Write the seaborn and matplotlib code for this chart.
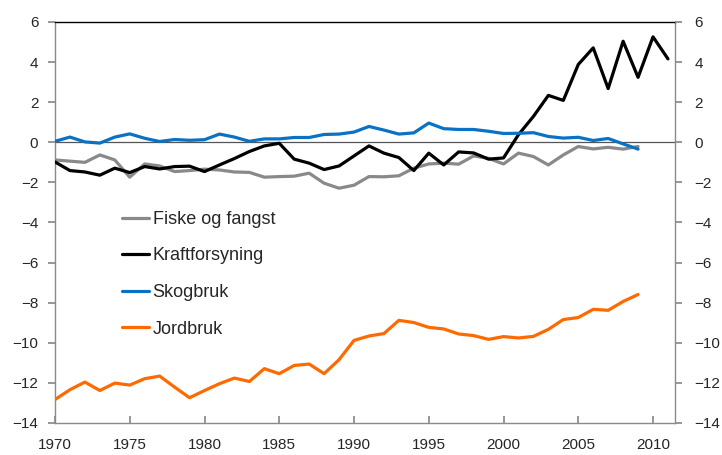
import matplotlib
matplotlib.use("Agg")
import matplotlib.pyplot as plt
import numpy as np
import pandas as pd
import seaborn as sns

years = list(range(1970, 2012))

fiske = [-0.88, -0.94, -1.00, -0.63, -0.88, -1.74, -1.08, -1.18, -1.46, -1.41,
         -1.34, -1.38, -1.48, -1.50, -1.74, -1.71, -1.69, -1.54, -2.04, -2.29,
         -2.14, -1.71, -1.72, -1.67, -1.29, -1.08, -1.04, -1.09, -0.68, -0.80,
         -1.08, -0.54, -0.71, -1.13, -0.63, -0.21, -0.33, -0.25, -0.34, -0.21]

kraft = [-0.98, -1.41, -1.48, -1.64, -1.29, -1.51, -1.21, -1.33, -1.21, -1.19,
         -1.46, -1.13, -0.81, -0.46, -0.18, -0.05, -0.84, -1.04, -1.36, -1.18,
         -0.68, -0.18, -0.54, -0.76, -1.41, -0.54, -1.13, -0.48, -0.53, -0.84,
         -0.78, 0.38, 1.29, 2.34, 2.09, 3.88, 4.71, 2.68, 5.04, 3.24,
         5.26, 4.16]

skog = [0.05, 0.26, 0.02, -0.04, 0.26, 0.42, 0.20, 0.04, 0.14, 0.10,
        0.13, 0.41, 0.26, 0.05, 0.17, 0.17, 0.24, 0.24, 0.39, 0.41,
        0.51, 0.79, 0.61, 0.41, 0.47, 0.96, 0.68, 0.64, 0.64, 0.55,
        0.44, 0.45, 0.48, 0.29, 0.21, 0.25, 0.09, 0.19, -0.08, -0.34]

jord = [-12.83, -12.34, -11.96, -12.38, -12.01, -12.11, -11.79, -11.66, -12.21, -12.74,
        -12.38, -12.04, -11.76, -11.93, -11.29, -11.54, -11.13, -11.06, -11.54, -10.84,
        -9.88, -9.66, -9.54, -8.88, -8.99, -9.23, -9.31, -9.56, -9.64, -9.83,
        -9.69, -9.76, -9.68, -9.33, -8.84, -8.74, -8.33, -8.38, -7.94, -7.59]

series = {
    "Fiske og fangst": fiske,
    "Kraftforsyning": kraft,
    "Skogbruk": skog,
    "Jordbruk": jord,
}
colors = {
    "Fiske og fangst": "#898989",
    "Kraftforsyning": "#000000",
    "Skogbruk": "#0a72c4",
    "Jordbruk": "#ff6a00",
}

df = pd.concat(
    [pd.DataFrame({"year": years[:len(v)], "value": v, "series": k}) for k, v in series.items()],
    ignore_index=True,
)

sns.set_theme(style="white")
plt.rcParams["font.family"] = ["Liberation Sans", "DejaVu Sans"]

fig = plt.figure(figsize=(7.22, 4.55), dpi=100)
ax = fig.add_axes([55 / 722, 1 - 423 / 455, 620 / 722, 401 / 455])

ax.axhline(0, color="#555555", lw=0.9, zorder=1)
sns.lineplot(data=df, x="year", y="value", hue="series", palette=colors,
             hue_order=list(series.keys()), linewidth=2.3, legend=False, ax=ax, zorder=3)

ax.set_xlim(1970, 2011.47)
ax.set_ylim(-14, 6)
ax.set_xticks(range(1970, 2011, 5))
ax.set_yticks(range(-14, 7, 2))
ax.set_xlabel("")
ax.set_ylabel("")

for side in ["left", "right", "bottom"]:
    ax.spines[side].set_color("#8a8a8a")
    ax.spines[side].set_linewidth(1.0)
ax.spines["top"].set_color("black")
ax.spines["top"].set_linewidth(1.0)

ax.tick_params(axis="x", direction="in", length=5, color="#8a8a8a", labelsize=11,
               pad=11, bottom=True)
ax.tick_params(axis="y", direction="out", length=5, color="#8a8a8a", labelsize=11,
               pad=7, left=True)

ax2 = ax.twinx()
ax2.set_ylim(-14, 6)
ax2.set_yticks(range(-14, 7, 2))
ax2.tick_params(axis="y", direction="out", length=5, color="#8a8a8a", labelsize=11,
                pad=9, right=True)
for side in ax2.spines:
    ax2.spines[side].set_visible(False)

handles = [plt.Line2D([], [], color=colors[k], lw=2.3) for k in series]
ax.legend(handles, list(series.keys()), loc="upper left",
          bbox_to_anchor=(122 / 722, 1 - 211 / 455), bbox_transform=fig.transFigure,
          frameon=False, fontsize=13, handlelength=1.5, handletextpad=0.2,
          labelspacing=1.08, borderpad=0, borderaxespad=0)

fig.savefig("out.png", dpi=100)
